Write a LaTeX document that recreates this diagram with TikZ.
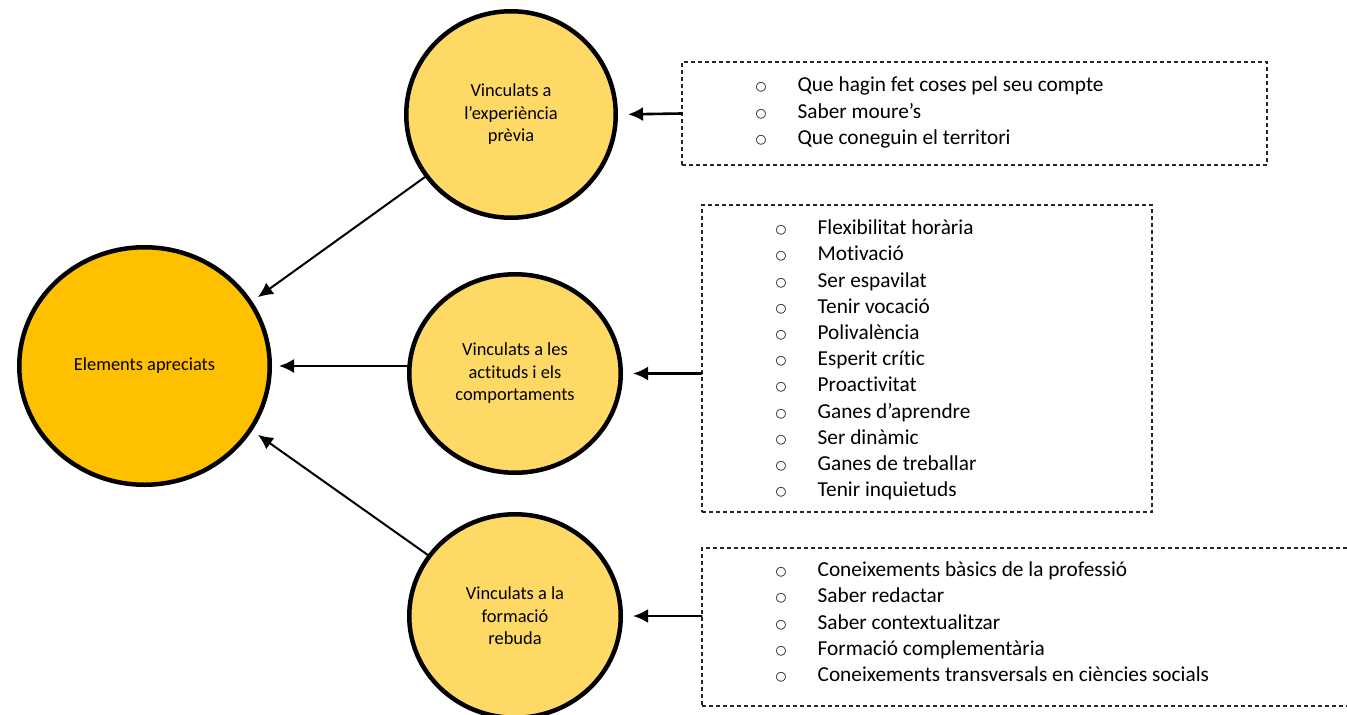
\documentclass[tikz,border=0pt]{standalone}
\usepackage{fontspec}
\setmainfont{Carlito}[Ligatures=NoCommon]
\newfontfamily\bulletfont{DejaVu Sans}
\usetikzlibrary{arrows.meta,positioning,shapes.geometric}

\definecolor{goldmain}{HTML}{FFC000}
\definecolor{goldlight}{HTML}{FFD966}
\newcommand{\bul}{\makebox[42pt][l]{\raisebox{1pt}{\bulletfont\fontsize{12.5}{12.5}\selectfont ○}}}

\begin{document}
\begin{tikzpicture}[x=1pt,y=-1pt,line cap=round,
  blob/.style={ellipse,draw,line width=4.5pt,fill=goldlight,align=center,inner sep=0pt,
    font=\fontsize{18.4}{22.5}\selectfont},
  dashbox/.style={draw=black!85,line cap=butt,dash pattern=on 4pt off 3pt,line width=1.1pt,inner sep=0pt},
  listtxt/.style={align=left,inner sep=0pt,font=\fontsize{21.3}{26.2}\selectfont},
  arr/.style={-{Latex[length=15pt,width=14pt]},line width=2pt,shorten >=7pt}]
  \useasboundingbox (0,0) rectangle (1347,715);

  % Central circle
  \node[blob,fill=goldmain,minimum width=250.5pt,minimum height=237.5pt] (main) at (144.5,366) {Elements apreciats};

  % Three groups
  \node[blob,minimum width=209.5pt,minimum height=206.5pt] (exp) at (511,114.5) {Vinculats a\\l’experiència\\prèvia};
  \node[blob,minimum width=211.5pt,minimum height=198.5pt] (act) at (515,373.5) {Vinculats a les\\actituds i els\\comportaments};
  \node[blob,minimum width=211.5pt,minimum height=203.5pt] (form) at (515,616) {Vinculats a la\\formació\\rebuda};

  % Dashed lists
  \node[dashbox,minimum width=585pt,minimum height=103pt] (box1) at (974.5,113.5) {};
  \node[dashbox,minimum width=450pt,minimum height=307pt] (box2) at (927,358.5) {};
  \node[dashbox,minimum width=660pt,minimum height=158pt] (box3) at (1032,627) {};

  \node[listtxt,right=74pt of box1.west,yshift=1pt] (list1) {\bul Que hagin fet coses pel seu compte\\
    \bul Saber moure’s\\
    \bul Que coneguin el territori};
  \node[listtxt,right=74pt of box2.west,yshift=-1.5pt] (list2) {\bul Flexibilitat horària\\
    \bul Motivació\\
    \bul Ser espavilat\\
    \bul Tenir vocació\\
    \bul Polivalència\\
    \bul Esperit crític\\
    \bul Proactivitat\\
    \bul Ganes d’aprendre\\
    \bul Ser dinàmic\\
    \bul Ganes de treballar\\
    \bul Tenir inquietuds};
  \node[listtxt,right=74pt of box3.west,yshift=5pt] (list3) {\bul Coneixements bàsics de la professió\\
    \bul Saber redactar\\
    \bul Saber contextualitzar\\
    \bul Formació complementària\\
    \bul Coneixements transversals en ciències socials};

  % Arrows into the central circle
  \draw[arr] (exp.216) -- (main.31);
  \draw[arr] (main.east -| act.west) -- (main.east);
  \draw[arr] (form.145) -- (main.-31);

  % Arrows from the lists
  \draw[arr,line width=2.6pt,shorten >=10pt] (box1.west) -- (exp.east);
  \draw[arr,line width=2.6pt,shorten >=10pt] (box2.west |- act.east) -- (act.east);
  \draw[arr,line width=2.6pt,shorten >=10pt] (box3.west |- form.east) -- (form.east);
\end{tikzpicture}
\end{document}
